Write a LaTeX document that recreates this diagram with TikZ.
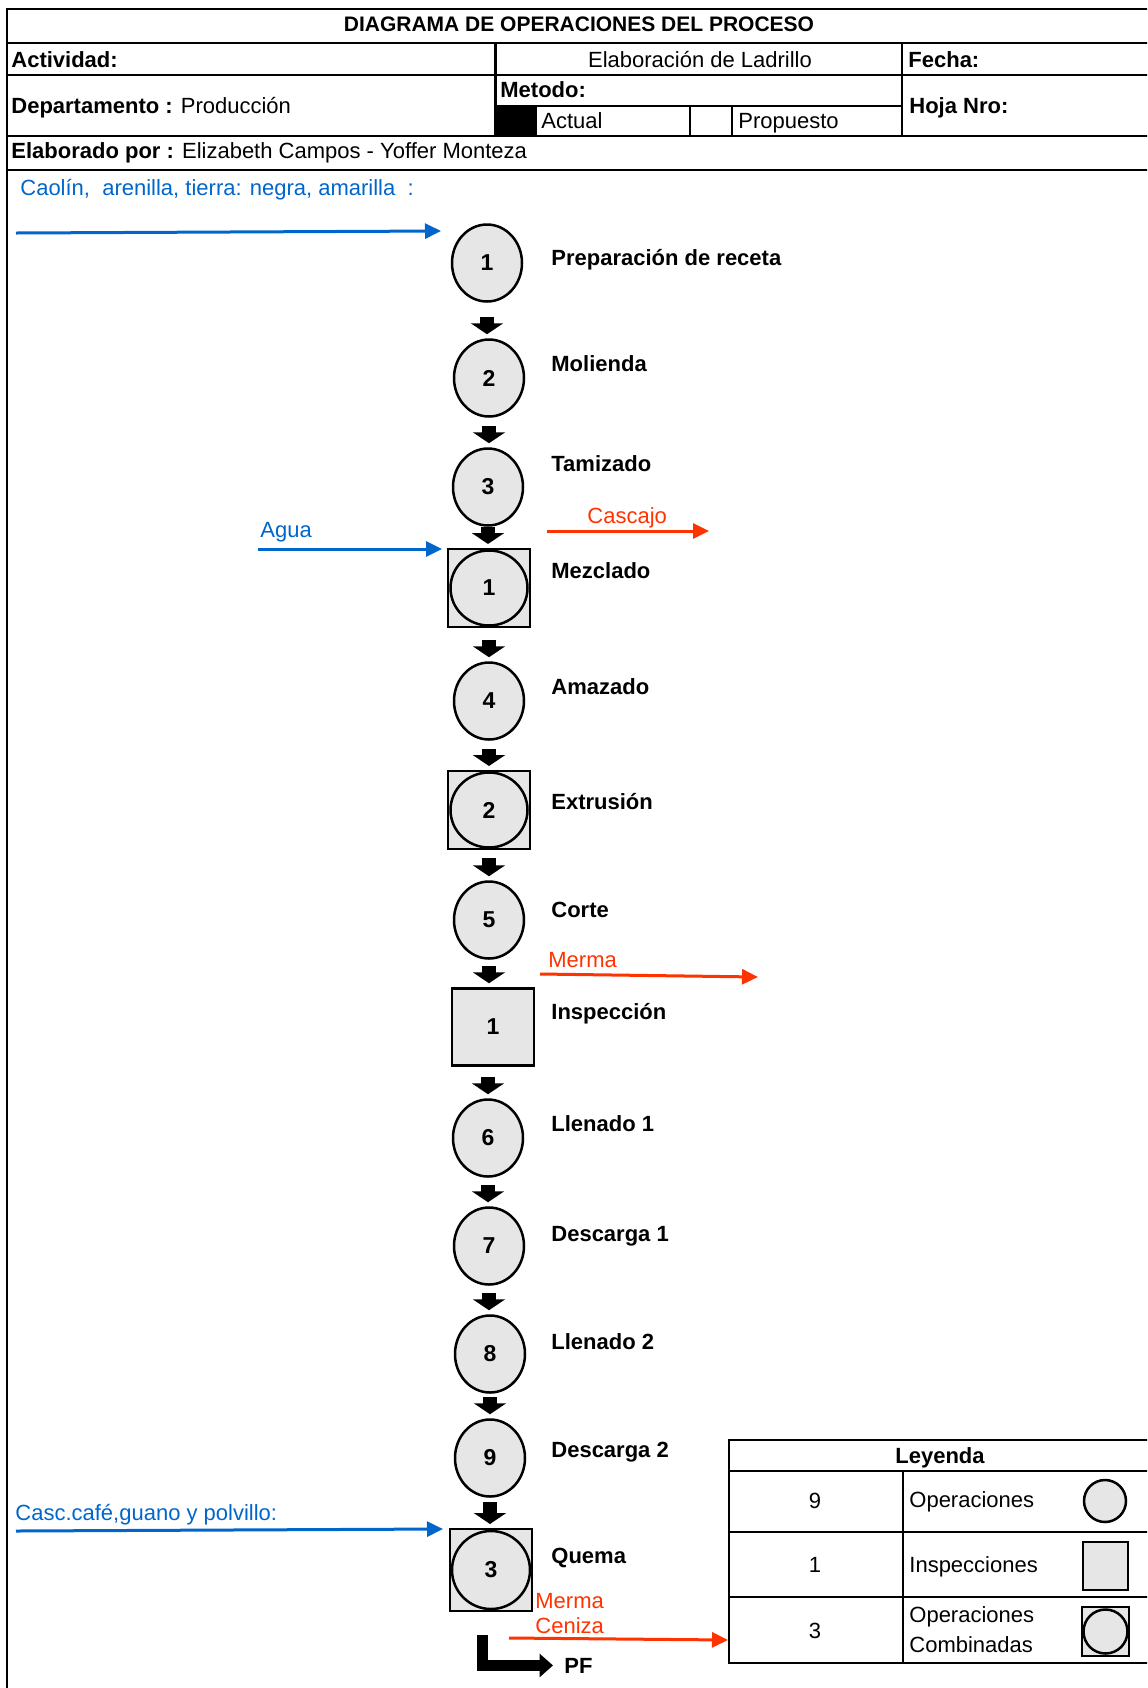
\documentclass[tikz,border=0pt]{standalone}
\usepackage{fontspec}
\setmainfont{Liberation Sans}
\usetikzlibrary{arrows.meta,shapes.geometric}

\definecolor{inblue}{RGB}{0,102,204}
\definecolor{outred}{RGB}{255,51,0}
\definecolor{opgray}{RGB}{230,230,230}

\begin{document}
\begin{tikzpicture}[
    x=0.5pt, y=-0.5pt,
    txt/.style={font=\fontsize{11}{13}\selectfont},
    boldtxt/.style={font=\fontsize{11}{13}\selectfont\bfseries},
    numfont/.style={font=\fontsize{11.5}{13}\selectfont\bfseries},
    gridline/.style={line width=1.4pt},
    celllbl/.style={anchor=base west, inner sep=0pt},
    steplbl/.style={anchor=base west, inner sep=0pt, boldtxt},
    sidelbl/.style={anchor=base west, inner sep=0pt, txt},
    opnode/.style={ellipse, draw, line width=1.25pt, fill=opgray,
      minimum width=35pt, minimum height=38.5pt, inner sep=0pt, numfont},
    insnode/.style={rectangle, draw, line width=1.25pt, fill=opgray,
      minimum width=41pt, minimum height=38.5pt, inner sep=0pt, numfont},
    combbase/.style={rectangle, draw, line width=1pt, fill=opgray,
      minimum width=41pt, inner sep=0pt, numfont},
    combnode/.style={combbase, minimum height=39pt,
      path picture={\draw[line width=1.25pt] (path picture bounding box.center) ellipse (19.25pt and 18.75pt);}},
    combtall/.style={combbase, minimum height=41pt,
      path picture={\draw[line width=1.25pt] (path picture bounding box.center) ellipse (19.5pt and 19.5pt);}},
    flowarrow/.style={line width=7pt, -{Triangle[width=16pt,length=5.5pt]}, shorten >=2pt},
    inarrow/.style={inblue, line width=1.5pt, -{Triangle[width=7.5pt,length=8pt]}},
    outarrow/.style={outred, line width=1.5pt, -{Triangle[width=7.5pt,length=8pt]}}
  ]
  \useasboundingbox (0,0) rectangle (1147,1688);
  \clip (0,0) rectangle (1147,1688);

  % encabezado
  \fill (495.6,106) rectangle (536.6,136);
  \draw[gridline] (7,1688) -- (7,9) -- (1150,9);
  \foreach \y in {43,75,136,170}
    \draw[gridline] (7,\y) -- (1150,\y);
  \draw[gridline] (495.6,106) -- (902,106);
  \foreach \x/\ya in {495.6/43, 902/43, 690/106, 732/106}
    \draw[gridline] (\x,\ya) -- (\x,136);

  \node[anchor=base, inner sep=0pt, font=\fontsize{10.5}{12}\selectfont\bfseries] (titulo) at (579,31)
    {DIAGRAMA DE OPERACIONES DEL PROCESO};
  \node[celllbl, boldtxt] (actividad) at (11,67) {Actividad:};
  \node[anchor=base, inner sep=0pt, txt] (actividad-val) at (700,67) {Elaboración de Ladrillo};
  \node[celllbl, boldtxt] (fecha) at (908,67) {Fecha:};
  \node[celllbl, txt] (depto) at (11,113) {\textbf{Departamento :} Producción};
  \node[celllbl, boldtxt] (metodo) at (500,97) {Metodo:};
  \node[celllbl, txt] (actual) at (541,128) {Actual};
  \node[celllbl, txt] (propuesto) at (738,128) {Propuesto};
  \node[celllbl, boldtxt] (hoja) at (909,113) {Hoja Nro:};
  \node[celllbl, txt] (elaborado) at (11,158)
    {\textbf{Elaborado por :} Elizabeth Campos - Yoffer Monteza};

  % secuencia de operaciones
  \foreach \nm/\sty/\num/\x/\y in {%
    op1/opnode/1/487/263, op2/opnode/2/489/378, op3/opnode/3/488/487,
    com1/combnode/1/489/588, op4/opnode/4/489/701, com2/combnode/2/489/810,
    op5/opnode/5/489/920, ins1/insnode/1/493/1027, op6/opnode/6/488/1138,
    op7/opnode/7/489/1246, op8/opnode/8/490/1354, op9/opnode/9/490/1458,
    com3/combtall/3/491/1570%
  }{
    \node[\sty] (\nm) at (\x,\y) {\num};
  }
  \foreach \txt/\y [count=\i] in {%
    Preparación de receta/265, Molienda/371, Tamizado/471, Mezclado/578,
    Amazado/694, Extrusión/809, Corte/917, Inspección/1019, Llenado 1/1131,
    Descarga 1/1241, Llenado 2/1349, Descarga 2/1457, Quema/1563%
  }{
    \node[steplbl] (lbl\i) at (551,\y) {\txt};
  }
  % flechas entre pasos, alineadas con el circulo (\c)
  \foreach \a/\b/\s/\c in {%
    op1/op2/7pt/op1, op2/op3/4pt/op2, op3/com1/0pt/op3, com1/op4/6pt/op4,
    op4/com2/4pt/op4, com2/op5/4pt/op5, op5/ins1/3pt/op5, ins1/op6/5pt/op6,
    op6/op7/3.5pt/op6, op7/op8/3.5pt/op7, op8/op9/1.5pt/op8, op9/com3/2pt/op9%
  }{
    \draw[flowarrow, shorten <=\s] (\a.south -| \c) -- (\b.north -| \c);
  }

  % entradas y salidas
  \node[sidelbl, text=inblue] (caolin) at (20,195)
    {Caolín,~ arenilla, tierra: negra, amarilla~ :};
  \coordinate (caolin-s) at (16,233);
  \coordinate (caolin-e) at (441,231);
  \draw[inarrow] (caolin-s) -- (caolin-e);

  \node[sidelbl, text=inblue] (agua) at (260,537) {Agua};
  \coordinate (agua-s) at (258,549);
  \coordinate (agua-e) at (442,549);
  \draw[inarrow] (agua-s) -- (agua-e);

  \node[sidelbl, text=outred] (cascajo) at (587,523) {Cascajo};
  \coordinate (cascajo-s) at (547,531);
  \coordinate (cascajo-e) at (709,531);
  \draw[outarrow] (cascajo-s) -- (cascajo-e);

  \node[sidelbl, text=outred] (merma1) at (548,967) {Merma};
  \coordinate (merma1-s) at (540,974);
  \coordinate (merma1-e) at (758,977);
  \draw[outarrow] (merma1-s) -- (merma1-e);

  \node[sidelbl, text=inblue] (cascafe) at (15,1520) {Casc.café,guano y polvillo:};
  \coordinate (cascafe-s) at (16,1531);
  \coordinate (cascafe-e) at (443,1529);
  \draw[inarrow] (cascafe-s) -- (cascafe-e);

  \node[sidelbl, text=outred] (merma2) at (535,1608) {Merma};
  \node[sidelbl, text=outred] (ceniza) at (535,1633) {Ceniza};
  \coordinate (ceniza-s) at (509,1638);
  \coordinate (ceniza-e) at (728,1640);
  \draw[outarrow] (ceniza-s) -- (ceniza-e);

  % producto final
  \node[celllbl, boldtxt] (pf) at (564,1673) {PF};
  \coordinate (pf-s) at (482.5,1635);
  \draw[line width=5.5pt, -{Triangle[width=11.5pt,length=6.75pt]}, shorten >=5.5pt]
    (pf-s) |- (pf.west);

  % leyenda
  \draw[gridline] (729,1440) rectangle (1150,1663);
  \foreach \y in {1471,1532,1597}
    \draw[gridline] (729,\y) -- (1150,\y);
  \draw[gridline] (903,1471) -- (903,1663);
  \node[anchor=base, inner sep=0pt, boldtxt] (leyenda) at (940,1463) {Leyenda};
  \foreach \nm/\n/\y in {cnt-op/9/1508, cnt-ins/1/1572, cnt-com/3/1638}
    \node[anchor=base, inner sep=0pt, txt] (\nm) at (815,\y) {\n};
  \node[celllbl, txt] (leg-op-txt) at (909,1507) {Operaciones};
  \node[celllbl, txt] (leg-ins-txt) at (909,1572) {Inspecciones};
  \node[celllbl, txt] (leg-com-txt1) at (909,1622) {Operaciones};
  \node[celllbl, txt] (leg-com-txt2) at (909,1652) {Combinadas};
  \node[ellipse, draw, line width=1.25pt, fill=opgray, minimum size=21pt, inner sep=0pt]
    (leg-op) at (1105,1501) {};
  \node[rectangle, draw, line width=1.25pt, fill=opgray, minimum width=22.5pt,
    minimum height=24pt, inner sep=0pt] (leg-ins) at (1105.5,1566) {};
  \node[combbase, minimum width=23.5pt, minimum height=24.5pt,
    path picture={\draw[line width=1.25pt] (path picture bounding box.center) circle (11pt);}]
    (leg-com) at (1105.5,1631.5) {};
\end{tikzpicture}
\end{document}
